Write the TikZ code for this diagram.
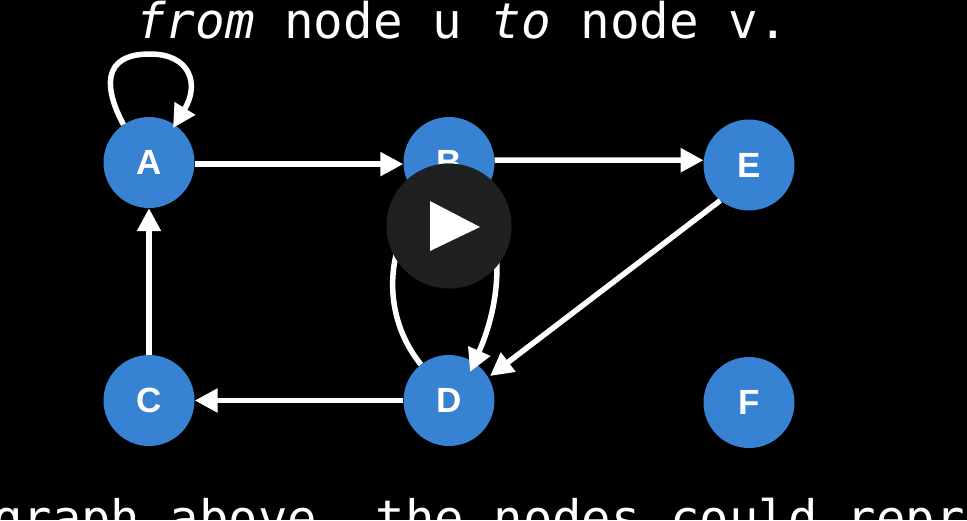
\documentclass[tikz,border=0pt]{standalone}
\usepackage{fontspec}
\setmainfont{Liberation Sans}
\setmonofont{DejaVu Sans Mono}
\usetikzlibrary{arrows.meta}
\definecolor{nodeblue}{HTML}{3782D3}
\definecolor{playgrey}{HTML}{1F2022}
\tikzset{
  vertex/.style={circle,fill=nodeblue,minimum size=91pt,inner sep=0pt,text=white,font=\fontsize{35}{35}\selectfont\bfseries},
  link/.style={draw=white,line width=5.5pt},
  edge/.style={link,-{Triangle[length=23pt,width=23pt]}},
  monotext/.style={text=white,inner sep=0pt,font=\fontsize{49.2}{50}\selectfont\ttfamily},
  captiontext/.style={monotext,font=\fontsize{48.9}{50}\selectfont\ttfamily},
  playdisc/.style={circle,fill=playgrey,minimum size=125pt,inner sep=0pt},
  playtri/.style={fill=white}
}
\begin{document}
\begin{tikzpicture}[x=1pt,y=-1pt]
\useasboundingbox (0,0) rectangle (967,520);
\clip (0,0) rectangle (967,520);
\fill[black] (0,0) rectangle (967,520);
\node[monotext,anchor=base west] (title) at (136,38) {\textit{from} node u \textit{to} node v.};
\node[captiontext,anchor=base west] (caption) at (-7,535) {graph above, the nodes could repr};
\node[vertex] (A) at (149,162.5) {A};
\node[vertex] (B) at (449,162.5) {B};
\node[vertex] (E) at (749,165) {E};
\node[vertex] (C) at (149,400.5) {C};
\node[vertex] (D) at (449,400.5) {D};
\node[vertex] (F) at (749,402.5) {F};
\coordinate (looptop) at (150,54);
\coordinate (looptip) at (173,128);
\coordinate (bdtip) at (470,372);
\coordinate (edtip) at (490,376);
\draw[edge] (A.-2) -- (B.182);
\draw[edge] (B.3) -- (E.174);
\draw[edge] (E.231) -- (edtip);
\draw[edge] (D.180) -- (C.0);
\draw[edge] (C.90) -- (A.270);
\draw[link] (A.124) .. controls (105,90) and (100,54) .. (looptop);
\draw[edge] (looptop) .. controls (190,54) and (200,84) .. (looptip);
\draw[edge] (D.128) .. controls (385,320) and (385,260) .. (B.235);
\draw[edge] (B.-50) .. controls (505,240) and (501,302) .. (bdtip);
\node[playdisc] (play) at (449,226) {};
\fill[playtri] (430,201) -- (480,227) -- (430,251) -- cycle;
\end{tikzpicture}
\end{document}
